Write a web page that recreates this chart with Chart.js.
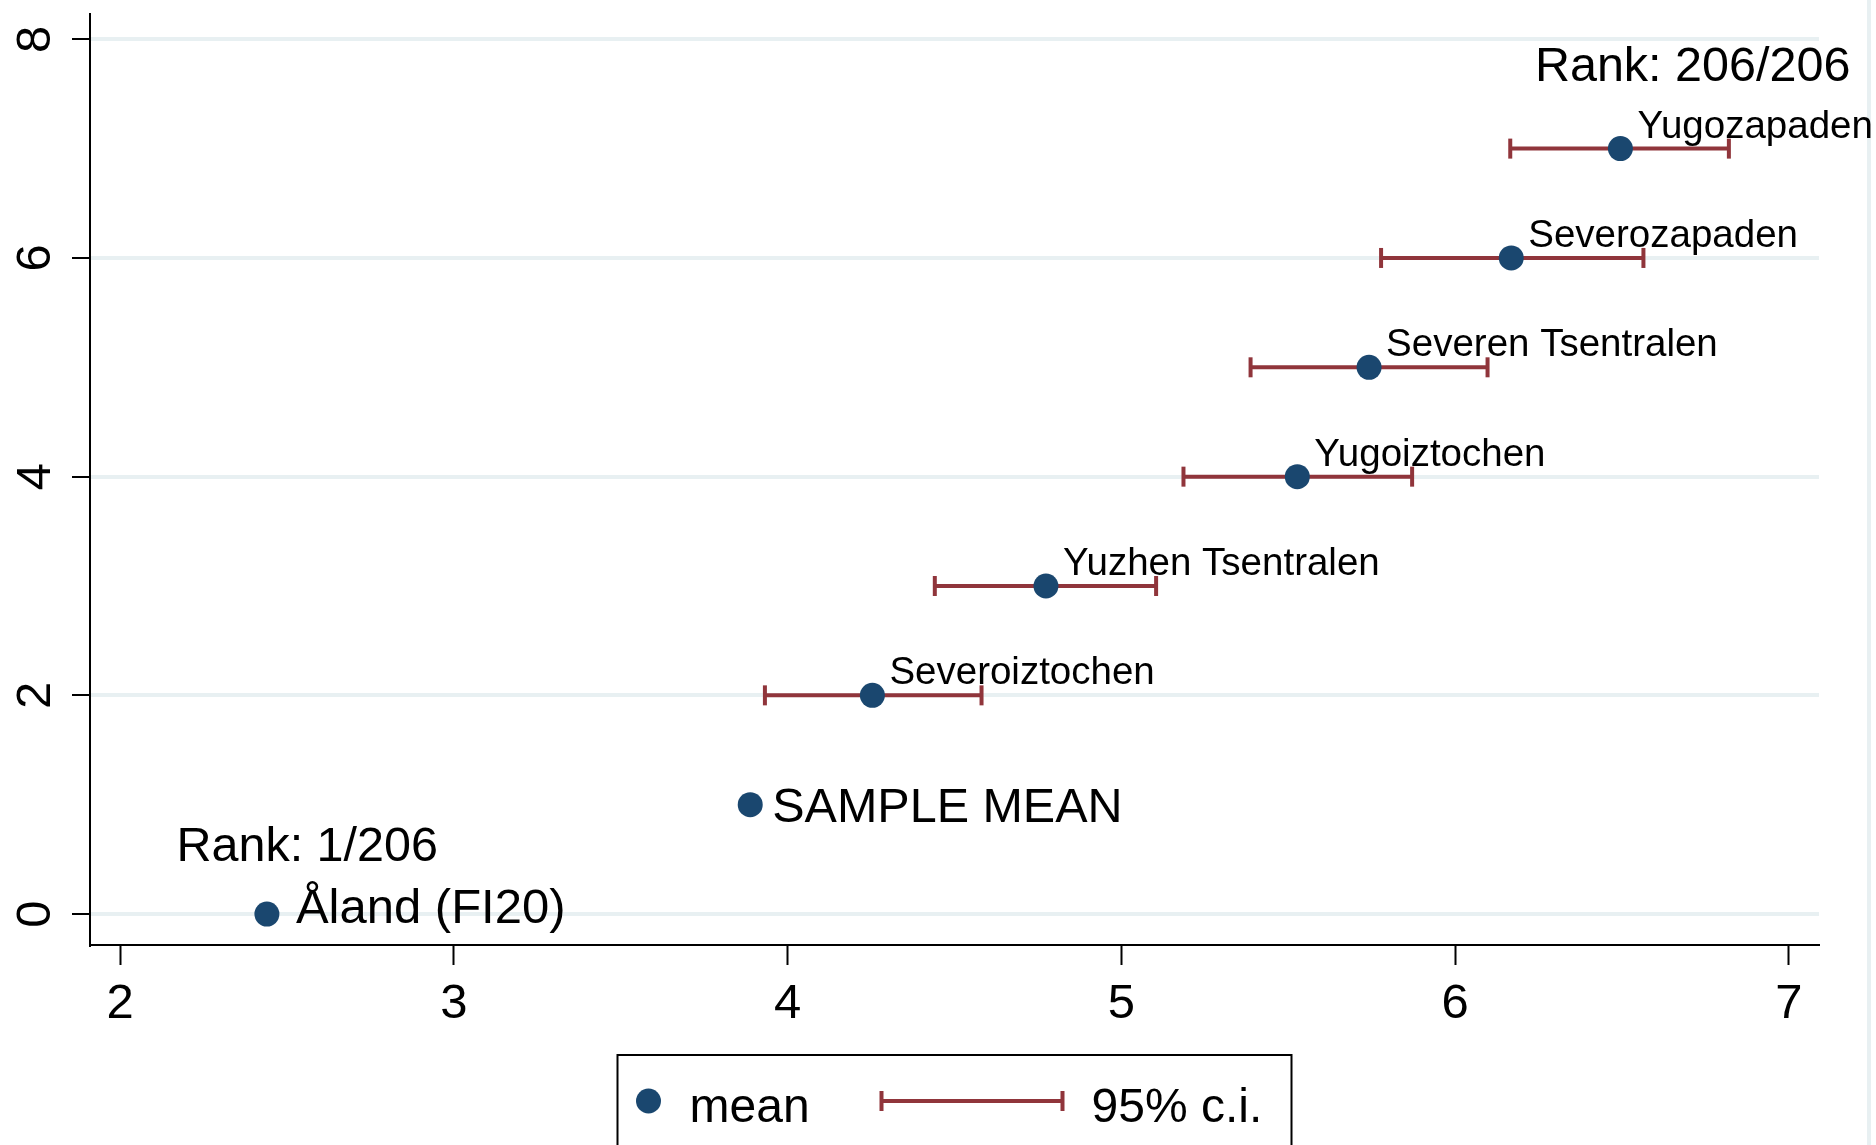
<!DOCTYPE html>
<html>
<head>
<meta charset="utf-8">
<title>Regional means with 95% c.i.</title>
<script src="https://cdn.jsdelivr.net/npm/chart.js@4.4.1/dist/chart.umd.min.js"></script>
<style>
  html, body { margin: 0; padding: 0; background: #fff; }
  canvas { display: block; }
</style>
</head>
<body>
<canvas id="chart" width="1876" height="1145"></canvas>
<script>
// ---- data ----
const regions = ['Severoiztochen', 'Yuzhen Tsentralen', 'Yugoiztochen', 'Severen Tsentralen', 'Severozapaden', 'Yugozapaden'];
const regionRow = [2, 3, 4, 5, 6, 7];
const regionMean = [4.254, 4.774, 5.527, 5.742, 6.168, 6.495];
const ciLow = [3.932, 4.441, 5.186, 5.387, 5.778, 6.165];
const ciHigh = [4.581, 5.104, 5.871, 6.097, 6.564, 6.820];

const refLabels = ['Åland (FI20)', 'SAMPLE MEAN'];
const refRow = [0, 1];
const refMean = [2.440, 3.888];

const rankLabels = ['Rank: 1/206', 'Rank: 206/206'];

const xTicks = [2, 3, 4, 5, 6, 7];
const yTicks = [0, 2, 4, 6, 8];
const legendLabels = ['mean', '95% c.i.'];

// ---- style ----
const FONT = "'Liberation Sans', Arial, Helvetica, sans-serif";
const COLORS = {
  mean: '#1a476f',
  ci: '#90353b',
  grid: '#e8f0f2',
  axis: '#000000'
};

// one short line per region for the confidence interval, caps drawn as rotated 'line' points
const ciDatasets = regions.map((name, i) => ({
  label: name + ' 95% c.i.',
  data: [{ x: ciLow[i], y: regionRow[i] }, { x: ciHigh[i], y: regionRow[i] }],
  showLine: true,
  borderColor: COLORS.ci,
  borderWidth: 4,
  pointStyle: 'line',
  pointRotation: 90,
  pointRadius: 10,
  pointBorderWidth: 4,
  pointBorderColor: COLORS.ci,
  pointBackgroundColor: COLORS.ci
}));

const meanDataset = {
  label: 'mean',
  data: refMean.map((v, i) => ({ x: v, y: refRow[i] }))
    .concat(regionMean.map((v, i) => ({ x: v, y: regionRow[i] }))),
  pointRadius: 12.5,
  pointBackgroundColor: COLORS.mean,
  pointBorderColor: COLORS.mean,
  pointBorderWidth: 0,
  showLine: false
};

// white page + the faint outer frame line on the right
const backdrop = {
  id: 'backdrop',
  beforeDraw(chart) {
    const { ctx, width, height } = chart;
    ctx.save();
    ctx.fillStyle = '#ffffff';
    ctx.fillRect(0, 0, width, height);
    ctx.fillStyle = COLORS.grid;
    ctx.fillRect(width - 9, 0, 4, height);
    ctx.restore();
  }
};

// point labels, rank notes, rotated y tick labels and the boxed legend
const annotations = {
  id: 'annotations',
  afterDraw(chart) {
    const { ctx, chartArea, scales: { x, y } } = chart;
    ctx.save();
    ctx.fillStyle = '#000';
    ctx.textAlign = 'left';
    ctx.textBaseline = 'alphabetic';

    // small region labels, up and to the right of the dot
    ctx.font = `38.5px ${FONT}`;
    regions.forEach((name, i) => {
      ctx.fillText(name, x.getPixelForValue(regionMean[i]) + 17, y.getPixelForValue(regionRow[i]) - 11);
    });

    // reference labels, to the right of the dot
    const refFont = ['49px', '48.5px'];
    const refShift = [[29, 9], [22, 17]];
    refLabels.forEach((name, i) => {
      ctx.font = `${refFont[i]} ${FONT}`;
      ctx.fillText(name, x.getPixelForValue(refMean[i]) + refShift[i][0], y.getPixelForValue(refRow[i]) + refShift[i][1]);
    });

    // rank notes
    ctx.font = `48.5px ${FONT}`;
    ctx.fillText(rankLabels[0], x.getPixelForValue(2.169), y.getPixelForValue(0.484));
    ctx.textAlign = 'right';
    ctx.fillText(rankLabels[1], x.getPixelForValue(7.184), y.getPixelForValue(7.62));

    // y tick labels, rotated to read bottom-up
    ctx.font = `49px ${FONT}`;
    ctx.textAlign = 'center';
    y.ticks.forEach(t => {
      ctx.save();
      ctx.translate(50, y.getPixelForValue(t.value));
      ctx.rotate(-Math.PI / 2);
      ctx.fillText(String(t.value), 0, 0);
      ctx.restore();
    });

    // legend box (runs off the bottom of the page)
    const cx = (chartArea.left + chartArea.right) / 2;
    const boxL = cx - 337, boxT = 1055;
    ctx.strokeStyle = '#000';
    ctx.lineWidth = 2;
    ctx.strokeRect(boxL, boxT, 674, 200);

    const rowY = boxT + 46;
    ctx.fillStyle = COLORS.mean;
    ctx.beginPath();
    ctx.arc(boxL + 31, rowY, 12.5, 0, Math.PI * 2);
    ctx.fill();

    ctx.strokeStyle = COLORS.ci;
    ctx.lineWidth = 4;
    ctx.beginPath();
    ctx.moveTo(boxL + 264, rowY); ctx.lineTo(boxL + 445, rowY);
    ctx.moveTo(boxL + 264, rowY - 10); ctx.lineTo(boxL + 264, rowY + 10);
    ctx.moveTo(boxL + 445, rowY - 10); ctx.lineTo(boxL + 445, rowY + 10);
    ctx.stroke();

    ctx.fillStyle = '#000';
    ctx.font = `48px ${FONT}`;
    ctx.textAlign = 'left';
    ctx.fillText(legendLabels[0], boxL + 72, rowY + 21);
    ctx.fillText(legendLabels[1], boxL + 474, rowY + 21);
    ctx.restore();
  }
};

new Chart(document.getElementById('chart'), {
  type: 'scatter',
  data: { datasets: [meanDataset, ...ciDatasets] },
  options: {
    responsive: false,
    animation: false,
    events: [],
    layout: { padding: { top: 4, right: 57, left: 0, bottom: 0 } },
    plugins: {
      legend: { display: false },
      tooltip: { enabled: false }
    },
    scales: {
      x: {
        type: 'linear',
        min: 1.91,
        max: 7.09,
        afterBuildTicks: s => { s.ticks = xTicks.map(v => ({ value: v })); },
        afterFit: s => { s.height = 200; },
        border: { display: true, color: COLORS.axis, width: 2 },
        grid: { drawOnChartArea: false, drawTicks: true, tickLength: 20, tickColor: COLORS.axis, tickWidth: 2 },
        ticks: { color: '#000', padding: 10, font: { family: FONT, size: 49 }, maxRotation: 0 }
      },
      y: {
        type: 'linear',
        min: -0.283,
        max: 8.231,
        afterBuildTicks: s => { s.ticks = yTicks.map(v => ({ value: v })); },
        afterFit: s => { s.width = 90; },
        border: { display: true, color: COLORS.axis, width: 2 },
        grid: { color: COLORS.grid, lineWidth: 4, drawTicks: true, tickLength: 18, tickColor: COLORS.axis, tickWidth: 2 },
        ticks: { display: false }
      }
    }
  },
  plugins: [backdrop, annotations]
});
</script>
</body>
</html>
